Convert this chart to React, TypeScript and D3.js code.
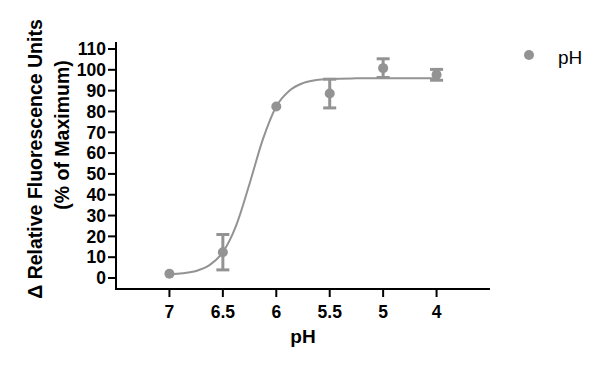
import React from 'react';
import * as d3 from 'd3';

// pH categories, evenly spaced on the axis (as in the original figure)
const phLabels = ['7', '6.5', '6', '5.5', '5', '4'];
const meanValues = [2, 12.4, 82.4, 88.6, 100.8, 97.6];
const errorValues = [0, 8.5, 0, 6.9, 4.5, 2.6];

// fitted sigmoid: [category index, value]
const fitIndex = [0, 0.25, 0.5, 0.75, 1, 1.25, 1.5, 1.75, 2, 2.25, 2.5, 2.75, 3, 3.5, 4, 5];
const fitValues = [1.8, 2.3, 3.4, 6.2, 12.4, 25.3, 45.3, 66.7, 82.4, 90.1, 93.6, 95.1, 95.6, 95.9, 96, 96];

const yTicks = [0, 10, 20, 30, 40, 50, 60, 70, 80, 90, 100, 110];

const GRAY = '#939393';
const FONT = '"Liberation Sans", Arial, Helvetica, sans-serif';

export default function App() {
  const width = 600;
  const height = 367;
  const axisLeft = 116;
  const axisBottom = 289;
  const axisRight = 490;
  const axisTop = 42;

  const x = d3.scaleLinear().domain([-1, 6]).range([axisLeft, axisRight]);
  const y = d3.scaleLinear().domain([0, 110]).range([278, 49]);

  const line = d3.line<number>()
    .x((_, i) => x(fitIndex[i]))
    .y(d => y(d))
    .curve(d3.curveMonotoneX);

  const capHalf = 6.5;

  return (
    <svg width={width} height={height} style={{ position: 'absolute', left: 0, top: 0, background: '#fff' }}
      fontFamily={FONT}>
      {/* y axis */}
      <line x1={axisLeft} x2={axisLeft} y1={axisTop} y2={axisBottom + 1} stroke="#000" strokeWidth={2} />
      {yTicks.map(t => (
        <g key={t}>
          <line x1={axisLeft - 8} x2={axisLeft} y1={y(t)} y2={y(t)} stroke="#000" strokeWidth={2} />
          <text x={axisLeft - 10} y={y(t)} dy="0.36em" textAnchor="end" fontSize={17.5} fontWeight="bold">{t}</text>
        </g>
      ))}

      {/* x axis */}
      <line x1={axisLeft - 1} x2={axisRight} y1={axisBottom} y2={axisBottom} stroke="#000" strokeWidth={2} />
      {phLabels.map((lab, i) => (
        <g key={lab}>
          <line x1={x(i)} x2={x(i)} y1={axisBottom} y2={axisBottom + 8} stroke="#000" strokeWidth={2} />
          <text x={x(i)} y={318} textAnchor="middle" fontSize={17.5} fontWeight="bold">{lab}</text>
        </g>
      ))}

      {/* axis titles */}
      <text x={303} y={343} textAnchor="middle" fontSize={19} fontWeight="bold">pH</text>
      <text transform="translate(42,159) rotate(-90)" textAnchor="middle" fontSize={19.5} fontWeight="bold">
        Δ Relative Fluorescence Units
      </text>
      <text transform="translate(69,135) rotate(-90)" textAnchor="middle" fontSize={19.5} fontWeight="bold">
        (% of Maximum)
      </text>

      {/* fit curve */}
      <path d={line(fitValues) || ''} fill="none" stroke={GRAY} strokeWidth={2} />

      {/* error bars */}
      {meanValues.map((m, i) => errorValues[i] > 0 && (
        <g key={'e' + i} stroke={GRAY} strokeWidth={3}>
          <line x1={x(i)} x2={x(i)} y1={y(m - errorValues[i])} y2={y(m + errorValues[i])} />
          <line x1={x(i) - capHalf} x2={x(i) + capHalf} y1={y(m + errorValues[i])} y2={y(m + errorValues[i])} />
          <line x1={x(i) - capHalf} x2={x(i) + capHalf} y1={y(m - errorValues[i])} y2={y(m - errorValues[i])} />
        </g>
      ))}

      {/* points */}
      {meanValues.map((m, i) => (
        <circle key={'p' + i} cx={x(i)} cy={y(m)} r={5} fill={GRAY} />
      ))}

      {/* legend */}
      <circle cx={529} cy={55} r={5} fill={GRAY} />
      <text x={558} y={64} fontSize={19}>pH</text>
    </svg>
  );
}
